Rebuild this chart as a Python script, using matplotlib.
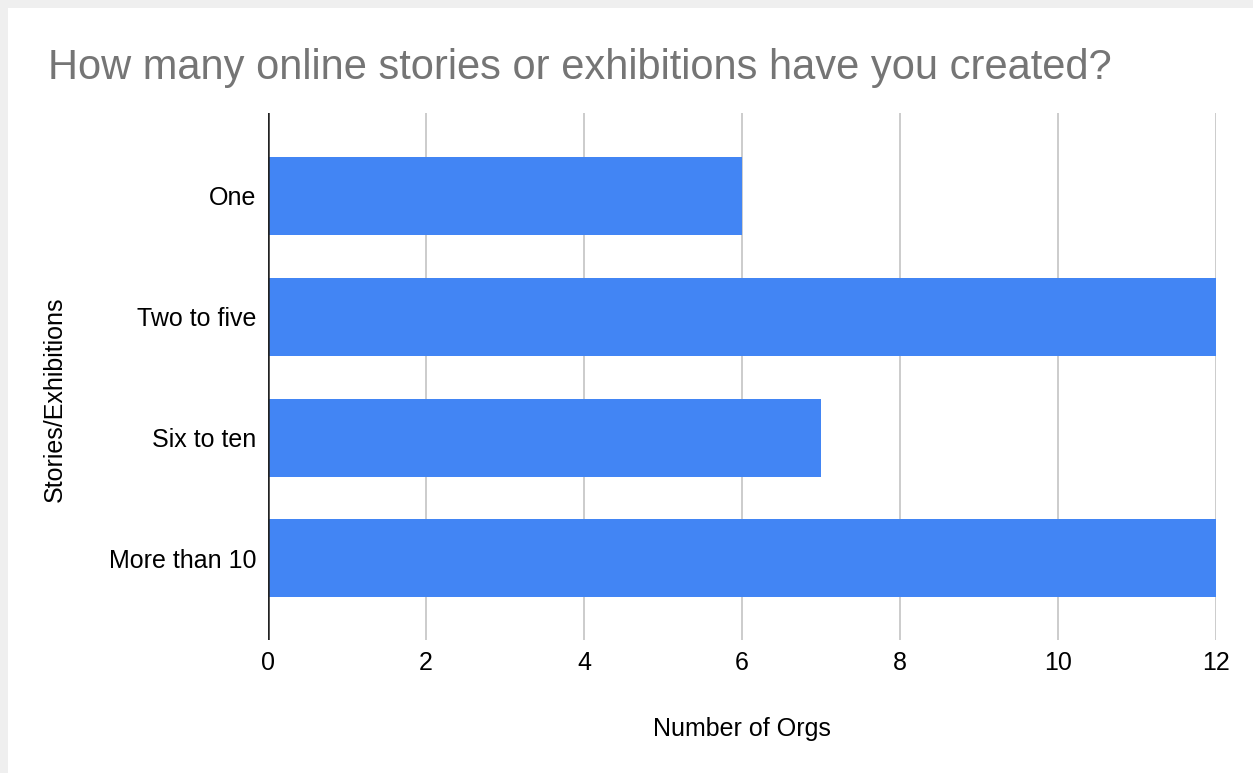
import matplotlib.pyplot as plt
from matplotlib.patches import Rectangle

# Dados do gráfico
categorias = ['One', 'Two to five', 'Six to ten', 'More than 10']
num_orgs = [6, 12, 7, 12]
ticks_x = [0, 2, 4, 6, 8, 10, 12]

plt.rcParams['font.family'] = ['Liberation Sans', 'DejaVu Sans']

W, H = 1253, 773
fig = plt.figure(figsize=(W / 100, H / 100), dpi=100)
fig.patch.set_facecolor('#efefef')
# painel branco (borda cinza à esquerda e no topo)
fig.patches.append(Rectangle((8 / W, 0), 1, 1 - 8 / H, transform=fig.transFigure,
                             facecolor='white', edgecolor='none', zorder=-10))

# eixo: x de 268 a 1216 px, y de 113 a 640 px
ax = fig.add_axes([268 / W, 1 - 640 / H, (1216 - 268) / W, (640 - 113) / H])
ax.set_facecolor('none')

posicoes = list(range(len(categorias)))
ax.barh(posicoes, num_orgs, height=0.645, color='#4285f4', zorder=3)

ax.set_ylim(3.675, -0.685)
ax.set_xlim(0, 12)
ax.set_yticks(posicoes)
ax.set_yticklabels(categorias, fontsize=18)
ax.set_xticks(ticks_x)
ax.set_xticklabels([str(t) for t in ticks_x], fontsize=18)
ax.tick_params(axis='y', length=0, pad=8.5)
ax.tick_params(axis='x', length=0, pad=8)

for t in ticks_x[1:]:
    ax.axvline(t, color='#cccccc', linewidth=1.4, zorder=1)
ax.axvline(0, color='#222222', linewidth=1.8, zorder=4)

for s in ax.spines.values():
    s.set_visible(False)

ax.set_xlabel('Number of Orgs', fontsize=18, va='baseline')
ax.xaxis.set_label_coords((742 - 268) / (1216 - 268), (640 - 736) / (640 - 113))
ax.set_ylabel('Stories/Exhibitions', fontsize=18)
ax.yaxis.set_label_coords((67 - 268) / (1216 - 268), (640 - 399) / (640 - 113))

fig.text(48 / W, 1 - 79 / H, 'How many online stories or exhibitions have you created?',
         fontsize=30, color='#757575', va='baseline', ha='left')

plt.savefig('out.png', dpi=100, facecolor=fig.get_facecolor())
